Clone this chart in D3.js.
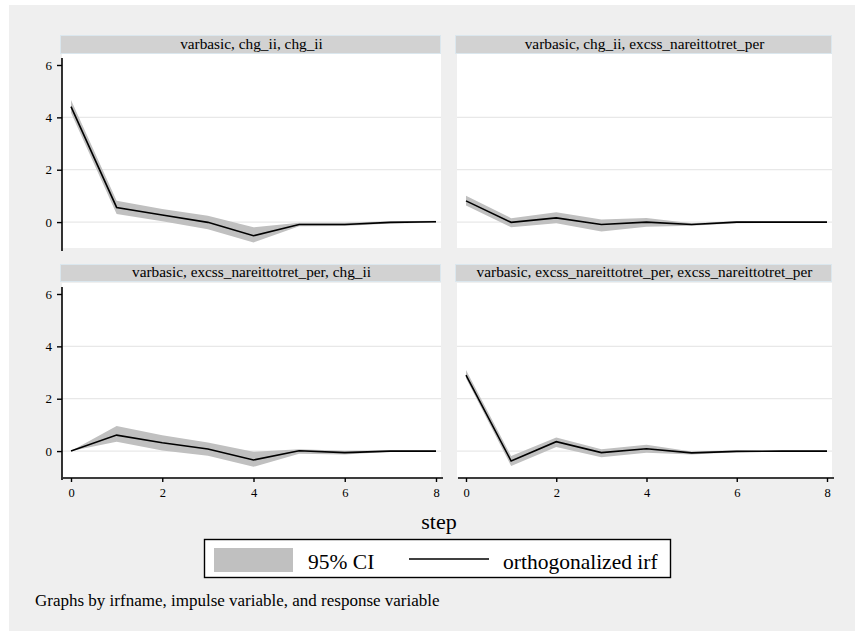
<!DOCTYPE html>
<html lang="en">
	<head>
		<meta charset="UTF-8" />
		<script src="https://d3js.org/d3.v7.min.js"></script>
		<style>
			body { margin:0; padding:0; background:#fff; }
			svg { display:block; }
			svg text { font-family: "Liberation Serif", "Times New Roman", "DejaVu Serif", serif !important; fill:#000; }
		</style>
	</head>
	<body>
		<script>
			// steps and the irf panels (impulse -> response)
			var steps = [0, 1, 2, 3, 4, 5, 6, 7, 8];
			var panelTitles = [
				"varbasic, chg_ii, chg_ii",
				"varbasic, chg_ii, excss_nareittotret_per",
				"varbasic, excss_nareittotret_per, chg_ii",
				"varbasic, excss_nareittotret_per, excss_nareittotret_per"
			];
			var irf1 = [4.41, 0.56, 0.27, -0.01, -0.52, -0.09, -0.09, -0.01, 0.01];
			var lo1  = [4.18, 0.31, 0.03, -0.27, -0.78, -0.16, -0.15, -0.05, -0.03];
			var hi1  = [4.66, 0.81, 0.50,  0.24, -0.20, -0.03, -0.03,  0.03,  0.05];

			var irf2 = [0.81, -0.01, 0.16, -0.09, 0.00, -0.09, 0.00, 0.00, 0.00];
			var lo2  = [0.63, -0.20, -0.04, -0.36, -0.18, -0.14, -0.04, -0.03, -0.02];
			var hi2  = [1.01,  0.15,  0.38,  0.10,  0.16, -0.04,  0.04,  0.03,  0.02];

			var irf3 = [0.00, 0.61, 0.32, 0.08, -0.34, 0.01, -0.06, 0.00, 0.00];
			var lo3  = [0.00, 0.36, 0.02, -0.18, -0.60, -0.10, -0.13, -0.03, -0.02];
			var hi3  = [0.00, 0.96, 0.60,  0.33, -0.03,  0.07,  0.01,  0.03,  0.02];

			var irf4 = [2.90, -0.38, 0.36, -0.06, 0.09, -0.07, -0.01, 0.00, 0.00];
			var lo4  = [2.78, -0.57, 0.16, -0.24, -0.06, -0.13, -0.04, -0.02, -0.02];
			var hi4  = [3.10, -0.19, 0.52,  0.07,  0.24, -0.02,  0.03,  0.02,  0.02];

			var yTicks = [0, 2, 4, 6];
			var xTicks = [0, 2, 4, 6, 8];

			var irfs = [irf1, irf2, irf3, irf4];
			var los = [lo1, lo2, lo3, lo4];
			var his = [hi1, hi2, hi3, hi4];

			var serif = '"Liberation Serif", "Times New Roman", serif';
			var width = 855, height = 631;
			var svg = d3.select("body").append("svg")
				.attr("width", width)
				.attr("height", height)
				.attr("font-family", serif);

			// outer graph region
			svg.append("rect")
				.attr("x", 9).attr("y", 5)
				.attr("width", width - 9).attr("height", height - 5)
				.attr("fill", "#efefef");

			var cols = [[62, 441], [457, 832]];
			var rows = [{strip:[35, 53], plot:[54, 248]}, {strip:[264, 281], plot:[283, 477]}];

			panelTitles.forEach(function(title, i) {
				var c = cols[i % 2], r = rows[Math.floor(i / 2)];
				var x = d3.scaleLinear().domain([0, 8]).range([c[0] + 9, c[1] - 5]);
				var y = d3.scaleLinear().domain([-0.99, 6.42]).range([r.plot[1], r.plot[0]]);
				var g = svg.append("g");

				g.append("rect")
					.attr("x", c[0]).attr("y", r.plot[0])
					.attr("width", c[1] - c[0]).attr("height", r.plot[1] - r.plot[0])
					.attr("fill", "#fff");

				// strip
				g.append("rect")
					.attr("x", c[0] - 1.5).attr("y", r.strip[0] + 0.5)
					.attr("width", c[1] - c[0] + 1).attr("height", r.strip[1] - r.strip[0])
					.attr("fill", "#d2d2d2")
					.attr("stroke", "#dbe7ee");
				g.append("text")
					.attr("x", (c[0] + c[1]) / 2)
					.attr("y", r.strip[1] - 4)
					.attr("text-anchor", "middle")
					.style("font-family", serif)
					.style("font-size", "15.3px")
					.text(title);

				// grid
				g.selectAll(".grid").data(yTicks.filter(function(d) { return d < 6; })).enter()
					.append("line")
					.attr("x1", c[0]).attr("x2", c[1])
					.attr("y1", function(d) { return y(d); })
					.attr("y2", function(d) { return y(d); })
					.attr("stroke", "#e8e8e8")
					.attr("stroke-width", 1.2);

				// confidence band
				var area = d3.area()
					.x(function(d, j) { return x(steps[j]); })
					.y0(function(d, j) { return y(los[i][j]); })
					.y1(function(d, j) { return y(his[i][j]); });
				g.append("path")
					.datum(steps)
					.attr("d", area)
					.attr("fill", "#c0c0c0");

				var line = d3.line()
					.x(function(d, j) { return x(steps[j]); })
					.y(function(d) { return y(d); });
				g.append("path")
					.datum(irfs[i])
					.attr("d", line)
					.attr("fill", "none")
					.attr("stroke", "#000")
					.attr("stroke-width", 1.6);

				// y axis on left column
				if (i % 2 == 0) {
					var ya = g.append("g")
						.attr("transform", "translate(" + c[0] + ",0)")
						.call(d3.axisLeft(y).tickValues(yTicks).tickSize(5).tickPadding(5));
					ya.attr("font-family", serif);
					ya.select(".domain").attr("d", "M0," + (r.plot[0] + 4) + "V" + (r.plot[1] + 3))
						.attr("stroke-width", 1.6);
					ya.selectAll(".tick line").attr("stroke-width", 1.4);
					ya.selectAll("text").style("font-size", "13px").style("font-family", serif);
				}
				// x axis on bottom row
				if (i >= 2) {
					var xa = g.append("g")
						.attr("transform", "translate(0," + (r.plot[1] + 1) + ")")
						.call(d3.axisBottom(x).tickValues(xTicks).tickSize(4).tickPadding(6));
					xa.attr("font-family", serif);
					xa.select(".domain").attr("d", "M" + (c[0] + 1) + ",0H" + (c[1] + 2))
						.attr("stroke-width", 1.6);
					xa.selectAll(".tick line").attr("stroke-width", 1.4);
					xa.selectAll("text").style("font-size", "12.5px").style("font-family", serif);
				}
			});

			// x title
			svg.append("text")
				.attr("x", 439).attr("y", 529)
				.attr("text-anchor", "middle")
				.style("font-family", serif)
				.style("font-size", "22px")
				.text("step");

			// legend
			var lg = svg.append("g");
			lg.append("rect")
				.attr("x", 204.5).attr("y", 539.5)
				.attr("width", 466).attr("height", 38)
				.attr("fill", "#fff")
				.attr("stroke", "#000")
				.attr("stroke-width", 1.4);
			lg.append("rect")
				.attr("x", 214).attr("y", 548)
				.attr("width", 79).attr("height", 24)
				.attr("fill", "#c0c0c0");
			lg.append("text")
				.attr("x", 308).attr("y", 569)
				.style("font-family", serif)
				.style("font-size", "21.5px")
				.text("95% CI");
			lg.append("line")
				.attr("x1", 409).attr("x2", 489)
				.attr("y1", 559).attr("y2", 559)
				.attr("stroke", "#000")
				.attr("stroke-width", 1.6);
			lg.append("text")
				.attr("x", 503).attr("y", 569)
				.style("font-family", serif)
				.style("font-size", "21.5px")
				.text("orthogonalized irf");

			svg.append("text")
				.attr("x", 35).attr("y", 606)
				.style("font-family", serif)
				.style("font-size", "17px")
				.text("Graphs by irfname, impulse variable, and response variable");
		</script>
	</body>
</html>
